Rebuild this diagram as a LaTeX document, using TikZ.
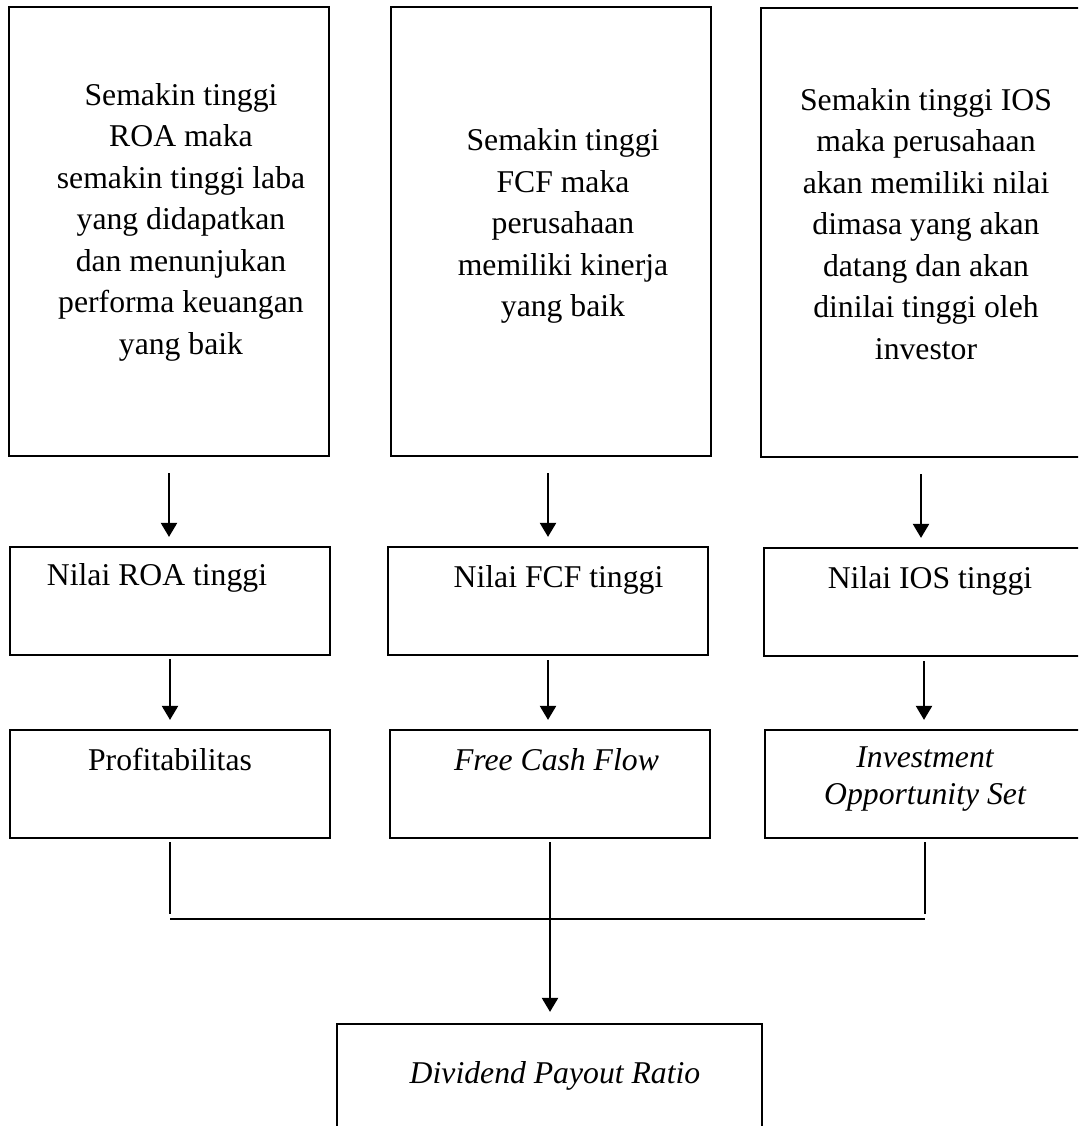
\documentclass[tikz,border=0pt]{standalone}
\usepackage{fontspec}
\setmainfont{Liberation Serif}
\usetikzlibrary{arrows.meta}
\begin{document}
\begin{tikzpicture}[
  x = 0.5pt, y = -0.5pt,
  line width = 1.1pt,
  box/.style={draw, rectangle, inner sep=0pt, minimum width=160pt},
  tallbox/.style={box, minimum height=224.5pt},
  shortbox/.style={box, minimum height=54pt},
  txt/.style={font=\fontsize{15.85}{20.75}\selectfont, align=center, inner sep=0pt},
  arr/.style={-{Triangle[length=7pt, width=8pt]}}]
\useasboundingbox (0,0) rectangle (1078,1126);
\clip (0,0) rectangle (1078,1126);
\node[tallbox] (top1) at (169,231.5) {};
\node[tallbox] (top2) at (551,231.5) {};
\node[tallbox] (top3) at (921,232.5) {};
\node[shortbox] (val1) at (170,601) {};
\node[shortbox] (val2) at (548,601) {};
\node[shortbox] (val3) at (924,602) {};
\node[shortbox] (var1) at (170,784) {};
\node[shortbox] (var2) at (550,784) {};
\node[shortbox] (var3) at (925,784) {};
\node[box, minimum width=212.5pt, minimum height=60pt] (dpr) at (549.5,1084) {};
\node[txt] (top1txt) at (181,222) {Semakin tinggi\\ROA maka\\semakin tinggi laba\\yang didapatkan\\dan menunjukan\\performa keuangan\\yang baik};
\node[txt] (top2txt) at (563,226) {Semakin tinggi\\FCF maka\\perusahaan\\memiliki kinerja\\yang baik};
\node[txt] (top3txt) at (926,224) {Semakin tinggi IOS\\maka perusahaan\\akan memiliki nilai\\dimasa yang akan\\datang dan akan\\dinilai tinggi oleh\\investor};
\node[txt, anchor=base] (val1txt) at (157,585) {Nilai ROA tinggi};
\node[txt, anchor=base] (val2txt) at (558.5,587) {Nilai FCF tinggi};
\node[txt, anchor=base] (val3txt) at (930,588) {Nilai IOS tinggi};
\node[txt, anchor=base] (var1txt) at (170,770) {Profitabilitas};
\node[txt, anchor=base] (var2txt) at (556.5,770) {\itshape Free Cash Flow};
\node[txt, font=\fontsize{15.85}{18.5}\selectfont\itshape] (var3txt) at (925,779.5) {Investment\\Opportunity Set};
\node[txt, anchor=base] (dprtxt) at (555,1083) {\itshape Dividend Payout Ratio};
\draw[arr, shorten <=8pt, shorten >=4.5pt] (top1.south) -- (top1.south |- val1.north);
\draw[arr, shorten <=8pt, shorten >=4.5pt] (val2.north |- top2.south) -- (val2.north);
\draw[arr, shorten <=8pt, shorten >=4.5pt] (top3.south) -- (top3.south |- val3.north);
\draw[arr, shorten <=1.5pt, shorten >=4.5pt] (val1.south) -- (val1.south |- var1.north);
\draw[arr, shorten <=2pt, shorten >=4.5pt] (val2.south) -- (val2.south |- var2.north);
\draw[arr, shorten <=2pt, shorten >=4.5pt] (val3.south) -- (val3.south |- var3.north);
\coordinate (jl) at (170,919);
\coordinate (jr) at (925,919);
\draw[shorten <=1.5pt, shorten >=2.5pt] (var1.south) -- (jl);
\draw[shorten <=1.5pt, shorten >=2.5pt] (var3.south) -- (jr);
\draw (jl) -- (jr);
\draw[arr, shorten <=1.5pt, shorten >=5.5pt] (var2.south) -- (var2.south |- dpr.north);
\end{tikzpicture}
\end{document}
